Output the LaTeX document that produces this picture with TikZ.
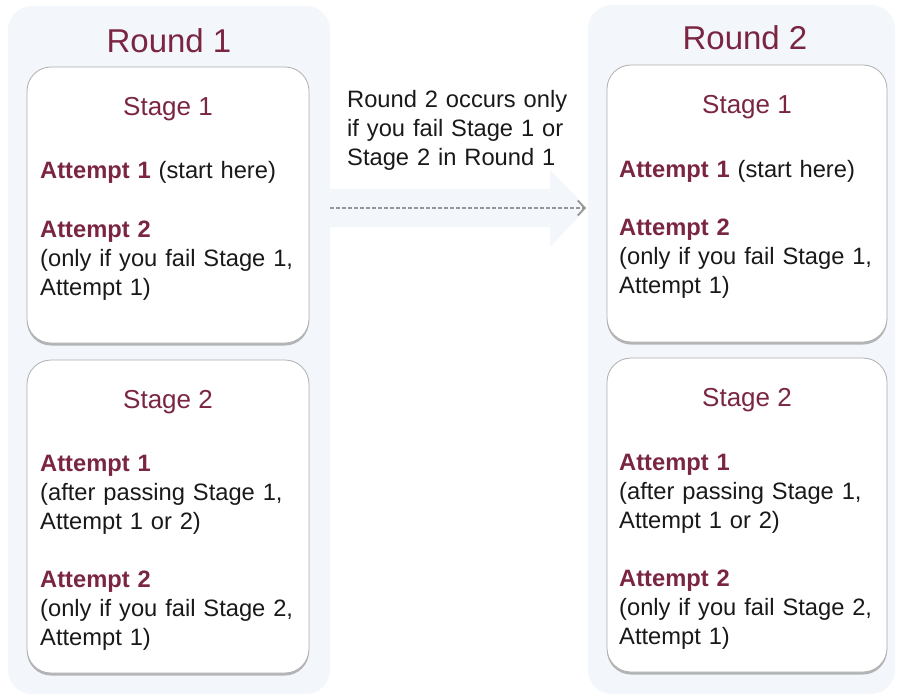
\documentclass[tikz,border=0pt]{standalone}
\usepackage{fontspec}
\setmainfont{Liberation Sans}
\usetikzlibrary{arrows.meta,shadows}
\definecolor{roundred}{RGB}{122,38,66}
\definecolor{panelblue}{RGB}{243,246,250}
\definecolor{boxgray}{RGB}{175,175,175}
\definecolor{dashgray}{RGB}{150,150,150}
\definecolor{bodyblack}{RGB}{25,25,25}
\newcommand{\attemptlabel}[1]{\textbf{\color{roundred}Attempt #1}}

\tikzset{
  panel/.style={fill=panelblue, rounded corners=24pt, inner sep=0},
  stagebox/.style={fill=white, draw=boxgray, line width=0.8pt, rounded corners=24pt, inner sep=0,
    drop shadow={shadow xshift=0pt, shadow yshift=-2.5pt, opacity=0.5, fill=black!55}},
  roundtitle/.style={font=\fontsize{33}{36}\selectfont, text=roundred, anchor=base, inner sep=0},
  stagetitle/.style={font=\fontsize{26}{30}\selectfont, text=roundred, anchor=base, inner sep=0},
  bodytext/.style={font=\fontsize{23.7}{29}\selectfont, text=bodyblack, anchor=base west, align=left,
    text width=280pt, inner sep=0}
}

\begin{document}
\begin{tikzpicture}[x=1pt, y=-1pt]
\useasboundingbox (0,0) rectangle (897,697);

% the two rounds
\node[panel, minimum width=322pt, minimum height=688pt](R1) at (169,350){};
\node[panel, minimum width=307pt, minimum height=689pt](R2) at (741.5,349.5){};

% faint arrow between the rounds
\fill[panelblue] (330,189) -- (550,189) -- (550,170) -- (587,208) -- (550,247) -- (550,227) -- (330,227) -- cycle;

\node[roundtitle](R1title) at (169,52){Round 1};
\node[roundtitle](R2title) at (745,49){Round 2};

% stage boxes
\node[stagebox, minimum width=282pt, minimum height=276pt](A1) at (168,205){};
\node[stagebox, minimum width=282pt, minimum height=313pt](A2) at (168,516.5){};
\node[stagebox, minimum width=280pt, minimum height=277pt](B1) at (747,203.5){};
\node[stagebox, minimum width=280pt, minimum height=314pt](B2) at (747,515){};

% round 1
\node[stagetitle](A1title) at (168,115){Stage 1};
\node[bodytext](A1one) at (40,178){\attemptlabel{1} (start here)};
\node[bodytext](A1two) at (40,237){\attemptlabel{2}\\(only if you fail Stage 1,\\Attempt 1)};
\node[stagetitle](A2title) at (168,408){Stage 2};
\node[bodytext](A2one) at (40,471){\attemptlabel{1}\\(after passing Stage 1,\\Attempt 1 or 2)};
\node[bodytext](A2two) at (40,587){\attemptlabel{2}\\(only if you fail Stage 2,\\Attempt 1)};

% round 2
\node[stagetitle](B1title) at (747,113){Stage 1};
\node[bodytext](B1one) at (619,177){\attemptlabel{1} (start here)};
\node[bodytext](B1two) at (619,235){\attemptlabel{2}\\(only if you fail Stage 1,\\Attempt 1)};
\node[stagetitle](B2title) at (747,406){Stage 2};
\node[bodytext](B2one) at (619,470){\attemptlabel{1}\\(after passing Stage 1,\\Attempt 1 or 2)};
\node[bodytext](B2two) at (619,586){\attemptlabel{2}\\(only if you fail Stage 2,\\Attempt 1)};

% note and dashed connector
\node[bodytext](note) at (347,107){Round 2 occurs only\\if you fail Stage 1 or\\Stage 2 in Round 1};
\coordinate (dstart) at (R1.east |- 0,208);
\coordinate (dend) at (586,208);
\draw[dashgray, line width=1.4pt, dash pattern=on 4pt off 2pt, -{Straight Barb[length=7pt,width=15pt,line width=1.8pt]}] (dstart) -- (dend);
\end{tikzpicture}
\end{document}
